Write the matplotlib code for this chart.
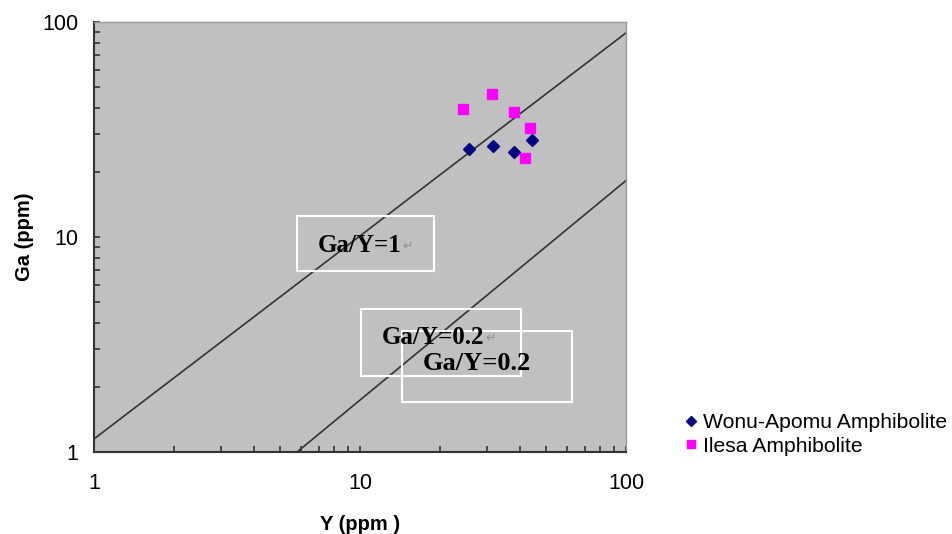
import matplotlib
matplotlib.use("Agg")
import matplotlib.pyplot as plt
from matplotlib.patches import Rectangle

# data
wonu_y = [25.7, 31.7, 37.8, 44.2]
wonu_ga = [25.7, 26.6, 24.8, 28.3]
ilesa_y = [24.4, 31.4, 38.0, 43.7, 41.6]
ilesa_ga = [39.5, 46.4, 38.1, 32.2, 23.2]

# reference lines (end points)
line1_x = [1.0, 100.0]
line1_y = [1.15, 89.0]
line2_x = [5.8, 100.0]
line2_y = [1.0, 18.3]

ticks = [1, 10, 100]
tick_labels = ["1", "10", "100"]

plt.rcParams['font.family'] = ['Liberation Sans', 'DejaVu Sans']

fig = plt.figure(figsize=(9.52, 5.34), dpi=100)
ax = fig.add_axes([94/952, 82/534, 532/952, 430/534])
ax.set_facecolor("#c0c0c0")
ax.set_xscale("log")
ax.set_yscale("log")
ax.set_xlim(1, 100)
ax.set_ylim(1, 100)

ax.plot(line1_x, line1_y, color="#333333", lw=1.2)
ax.plot(line2_x, line2_y, color="#333333", lw=1.2)

ax.plot(wonu_y, wonu_ga, ls="none", marker="D", ms=6, color="#000080",
        label="Wonu-Apomu Amphibolite")
ax.plot(ilesa_y, ilesa_ga, ls="none", marker="s", ms=7.5, color="#ff00ff",
        label="Ilesa Amphibolite")

# text boxes (white outline, no fill)
boxes = [(0.382, 0.421, 0.257, 0.128),
         (0.502, 0.177, 0.301, 0.156),
         (0.579, 0.116, 0.319, 0.166)]
for bx, by, bw, bh in boxes:
    ax.add_patch(Rectangle((bx, by), bw, bh, transform=ax.transAxes,
                           fill=False, ec="white", lw=1.5, zorder=4))

serif = ['Liberation Serif', 'DejaVu Serif']
t1 = ax.text(0.420, 0.481, "Ga/Y=1", transform=ax.transAxes, family=serif,
             fontsize=18, fontweight="bold", va="center", ha="left", zorder=5)
t2 = ax.text(0.541, 0.267, "Ga/Y=0.2", transform=ax.transAxes, family=serif,
             fontsize=18, fontweight="bold", va="center", ha="left", zorder=5)
ax.text(0.618, 0.206, "Ga/Y=0.2", transform=ax.transAxes, family=serif,
        fontsize=19, fontweight="bold", va="center", ha="left", zorder=5)
for t in [t1, t2]:
    ax.annotate("↵", xy=(1, 0.45), xycoords=t, xytext=(1, 0),
                textcoords="offset points", family="DejaVu Sans",
                fontsize=9, color="#909090", va="center", ha="left", zorder=5)

ax.set_xticks(ticks)
ax.set_xticklabels(tick_labels)
ax.set_yticks(ticks)
ax.set_yticklabels(tick_labels)
ax.tick_params(which="both", direction="in", length=4, width=1.2,
               color="#333333", top=False, right=False)
ax.tick_params(axis="x", which="major", labelsize=15.5, pad=15)
ax.tick_params(axis="y", which="major", labelsize=15.5, pad=11)

for s in ["left", "bottom"]:
    ax.spines[s].set_color("#333333")
    ax.spines[s].set_linewidth(1.5)
for s in ["top", "right"]:
    ax.spines[s].set_color("#999999")
    ax.spines[s].set_linewidth(1.0)

ax.set_xlabel("Y (ppm )", fontsize=14.5, fontweight="bold", labelpad=15)
ax.set_ylabel("Ga (ppm)", fontsize=14.5, fontweight="bold", labelpad=6)

fig.legend(loc="upper left", bbox_to_anchor=(672/952, 1 - 405/534),
           frameon=False, fontsize=15.2, handletextpad=0.05, labelspacing=0.2,
           handlelength=1.0, markerscale=0.8, borderaxespad=0)

fig.savefig("out.png", dpi=100)
